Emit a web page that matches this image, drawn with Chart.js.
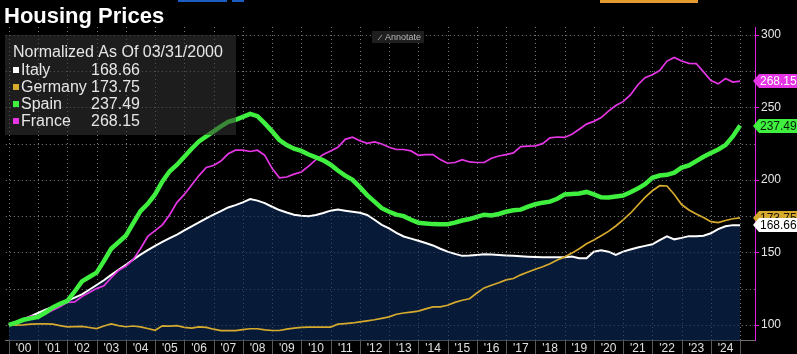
<!DOCTYPE html>
<html>
<head>
<meta charset="utf-8">
<script src="https://cdn.jsdelivr.net/npm/chart.js@4"></script>
<style>
  html, body { margin: 0; padding: 0; background: #000; }
  #wrap { width: 797px; height: 354px; }
</style>
</head>
<body>
<div id="wrap"><canvas id="housingChart" width="797" height="354"></canvas></div>
<script>
// quarterly observations, Q1 2000 .. Q1 2025 (index 100 = 03/31/2000)
const quarters = [];
for (let y = 2000; y <= 2025; y++) {
    for (let q = 0; q < 4; q++) {
        if (quarters.length < 101) quarters.push(y + q / 4);
    }
}

const italy = [100, 102, 104, 106, 108.2, 110.5, 112.3, 114.2, 116.5, 118.8,
    121, 124.2, 127.5, 130.8, 134.5, 138, 141.5, 145, 148.5, 151.6,
    154.5, 157.2, 159.8, 162.3, 165.2, 168, 170.7, 173.5, 176, 178.5,
    181, 182.6, 184.5, 186.8, 185.7, 184, 181.5, 179.2, 177.5, 176,
    175.2, 175, 175.8, 177.2, 178.8, 179.5, 178.8, 178, 177.3, 175.8,
    172.5, 169, 166.5, 163.5, 161, 159.5, 158, 156.5, 154.8, 152.5,
    150.5, 149, 147.6, 147.8, 148.2, 148.7, 148.5, 148.2, 147.9, 147.6,
    147.3, 147, 146.8, 146.7, 146.7, 146.7, 146.7, 147.2, 146, 146,
    150.5, 151.5, 150.5, 148.3, 150.5, 152, 153.4, 154.5, 155.6, 158.5,
    161, 159, 160, 161.2, 161.2, 161.5, 163.2, 166, 168, 168.8,
    168.66];

const germany = [100, 99.8, 100, 100.5, 100.7, 100.7, 100.5, 99.5, 98.6, 98.8,
    99, 98.2, 97.4, 99.2, 100.6, 99.5, 98.7, 99.2, 98.6, 97.5,
    96.3, 99.3, 99.1, 99.4, 98.3, 97.8, 98.6, 98.3, 97, 96,
    96, 96, 96.7, 97.3, 97.3, 96.6, 96.1, 96.1, 97, 97.7,
    98.3, 98.4, 98.4, 98.4, 98.5, 100.5, 100.9, 101.3, 102, 102.7,
    103.5, 104.5, 105.5, 107.3, 108.2, 108.8, 109.5, 111, 112.4, 112.4,
    113.5, 115.5, 117, 118, 122, 125.5, 127.3, 129, 131, 132,
    134.5, 136.5, 138.4, 140.1, 142.2, 144.7, 146.8, 149.5, 152.5, 156,
    158.5, 161.5, 164.5, 168.2, 172.5, 177, 182.5, 188, 192.5, 196,
    195.8, 190, 183, 179.3, 176.5, 174, 171.2, 170.5, 172, 173.2,
    173.75];

const spain = [100, 101.5, 103.5, 104.5, 105.5, 108.5, 112, 114.5, 116.5, 123,
    130, 133, 136, 144, 152.5, 157, 161.5, 170, 178.5, 183.5,
    190, 199, 206, 210.5, 216, 221.5, 226.5, 230, 233.5, 237,
    240, 241.5, 243.5, 245.5, 244, 239, 233.5, 227.5, 224, 221.5,
    220, 217.5, 215.5, 213.5, 210.5, 206.5, 203, 200, 195, 189.5,
    185, 180.5, 178, 176, 175, 172.5, 170.5, 170, 169.5, 169.4,
    169.4, 170.5, 172, 173, 174.5, 176, 175.5, 176.5, 178, 179,
    179.5, 181.5, 183.2, 184.3, 185, 187, 190, 190.3, 190.6, 191.7,
    190, 188, 187.8, 188.5, 189.2, 191.5, 194, 197, 201.5, 203,
    203.5, 205, 208.5, 210, 213, 216, 218.5, 221, 224, 230,
    237.49];

const france = [100, 101.5, 104, 106, 106, 107.5, 110, 112.5, 115.5, 115.8,
    119.5, 122.3, 125, 127, 132.5, 137.5, 140.5, 145, 152.5, 161,
    165, 169, 176, 184.5, 190, 196.5, 203, 208.6, 209.9, 213,
    218, 220.5, 220.5, 219.6, 220.5, 217, 208, 201.5, 202, 204,
    205.5, 209.5, 214, 217.5, 220, 222.5, 228, 229.5, 227, 225.2,
    226.2, 224.8, 222.5, 221, 221, 220, 217, 217.5, 217.5, 214,
    211.5, 212, 214, 212.4, 212, 212, 215, 216.5, 217.5, 218.6,
    223, 223.3, 223.5, 225, 229, 229.6, 229.3, 231.5, 235, 238.5,
    240.4, 243, 247.5, 251.3, 254, 258.6, 265.5, 270.5, 272.6, 275.5,
    282, 284.5, 282, 280.4, 280.3, 274.5, 268.5, 266.3, 270, 267.5,
    268.15];

const yearTicks = [];
for (let y = 2000; y <= 2025; y++) yearTicks.push(y);
const yTicks = [100, 125, 150, 175, 200, 225, 250, 275, 300];

const seriesNames = ['Italy', 'Germany', 'Spain', 'France'];
const lastValues = ['168.66', '173.75', '237.49', '268.15'];
const seriesColors = ['#ffffff', '#d6aa2c', '#3ff03f', '#e535e5'];

const FONT = "'Liberation Sans', Arial, sans-serif";

function points(values) {
    return values.map((v, i) => ({ x: quarters[i], y: v }));
}

function strokeGrid(chart, color) {
    const ctx = chart.ctx;
    const a = chart.chartArea;
    const xs = chart.scales.x;
    const ys = chart.scales.y;
    ctx.strokeStyle = color;
    ctx.lineWidth = 1;
    ctx.setLineDash([1, 3]);
    yTicks.forEach(v => {
        const py = Math.round(ys.getPixelForValue(v)) + 0.5;
        ctx.beginPath();
        ctx.moveTo(a.left, py);
        ctx.lineTo(a.right, py);
        ctx.stroke();
    });
    yearTicks.forEach(v => {
        const px = Math.round(xs.getPixelForValue(v)) + 0.5;
        ctx.beginPath();
        ctx.moveTo(px, a.top);
        ctx.lineTo(px, a.bottom);
        ctx.stroke();
    });
}

// dotted grid, also visible through the Italy fill
const dottedGrid = {
    id: 'dottedGrid',
    beforeDatasetsDraw(chart) {
        chart.ctx.save();
        strokeGrid(chart, '#6e6e6e');
        chart.ctx.restore();
    },
    afterDatasetsDraw(chart) {
        const ctx = chart.ctx;
        const a = chart.chartArea;
        const ys = chart.scales.y;
        ctx.save();
        strokeGrid(chart, 'rgba(120,130,150,0.45)');
        // magenta axis ticks
        ctx.setLineDash([]);
        ctx.strokeStyle = '#e020e0';
        yTicks.filter(v => v % 50 === 0).forEach(v => {
            const py = Math.round(ys.getPixelForValue(v)) + 0.5;
            ctx.beginPath();
            ctx.moveTo(a.right, py);
            ctx.lineTo(a.right + 4, py);
            ctx.stroke();
        });
        ctx.restore();
    }
};

// title, legend box, value tags, x separators
const overlay = {
    id: 'overlay',
    afterDraw(chart) {
        const ctx = chart.ctx;
        const xs = chart.scales.x;
        const ys = chart.scales.y;
        const area = chart.chartArea;
        ctx.save();

        // top strip bits
        ctx.fillStyle = '#1d5cc0';
        ctx.fillRect(178, 0, 49, 2);
        ctx.fillRect(232, 0, 12, 2);
        ctx.fillStyle = '#e39a2e';
        ctx.fillRect(600, 0, 98, 3);

        // title
        ctx.fillStyle = '#ffffff';
        ctx.font = "bold 22px " + FONT;
        ctx.textBaseline = 'alphabetic';
        ctx.textAlign = 'left';
        ctx.fillText('Housing Prices', 4, 23);

        // x label separators
        ctx.strokeStyle = '#5a5a5a';
        ctx.lineWidth = 1;
        yearTicks.forEach(y => {
            const px = Math.round(xs.getPixelForValue(y)) + 0.5;
            ctx.beginPath();
            ctx.moveTo(px, area.bottom);
            ctx.lineTo(px, 354);
            ctx.stroke();
        });

        // annotate chip
        ctx.fillStyle = '#1e1e1e';
        ctx.fillRect(372, 31, 52, 12);
        ctx.strokeStyle = '#9a9a9a';
        ctx.beginPath();
        ctx.moveTo(378, 40);
        ctx.lineTo(382, 35);
        ctx.stroke();
        ctx.fillStyle = '#b8b8b8';
        ctx.font = "9px " + FONT;
        ctx.textBaseline = 'middle';
        ctx.fillText('Annotate', 385, 37.5);

        // legend box
        ctx.fillStyle = 'rgba(53,53,53,0.55)';
        ctx.fillRect(5, 35, 231, 100);
        ctx.fillStyle = '#e6e6e6';
        ctx.font = "16px " + FONT;
        ctx.textBaseline = 'alphabetic';
        ctx.fillText('Normalized As Of 03/31/2000', 13, 57);
        const baselines = [75, 92, 109, 126];
        seriesNames.forEach((name, i) => {
            const b = baselines[i];
            ctx.fillStyle = seriesColors[i];
            ctx.fillRect(13, b - 8, 6, 6);
            ctx.fillStyle = '#e6e6e6';
            ctx.fillText(name, 21, b);
            ctx.fillText(lastValues[i], 91, b);
        });

        // value tags on the right axis (Germany first so Italy sits on top)
        const tagOrder = [1, 0, 2, 3];
        const tagText = ['#000000', '#1a1400', '#062006', '#ffffff'];
        ctx.font = "12px " + FONT;
        ctx.textBaseline = 'middle';
        tagOrder.forEach(i => {
            const y = Math.round(ys.getPixelForValue(parseFloat(lastValues[i])));
            ctx.fillStyle = seriesColors[i];
            ctx.beginPath();
            ctx.moveTo(753, y);
            ctx.lineTo(759, y - 7);
            ctx.lineTo(797, y - 7);
            ctx.lineTo(797, y + 7);
            ctx.lineTo(759, y + 7);
            ctx.closePath();
            ctx.fill();
            ctx.fillStyle = tagText[i];
            ctx.fillText(lastValues[i], 760, y + 0.5);
        });

        ctx.restore();
    }
};

new Chart(document.getElementById('housingChart'), {
    type: 'line',
    data: {
        datasets: [
            {
                label: 'Spain',
                data: points(spain),
                borderColor: seriesColors[2],
                borderWidth: 4.5,
                pointRadius: 0,
                fill: false
            },
            {
                label: 'France',
                data: points(france),
                borderColor: seriesColors[3],
                borderWidth: 1.7,
                pointRadius: 0,
                fill: false
            },
            {
                label: 'Germany',
                data: points(germany),
                borderColor: seriesColors[1],
                borderWidth: 1.7,
                pointRadius: 0,
                fill: false
            },
            {
                label: 'Italy',
                data: points(italy),
                borderColor: seriesColors[0],
                backgroundColor: '#071b38',
                borderWidth: 2,
                pointRadius: 0,
                fill: 'start'
            }
        ]
    },
    options: {
        responsive: false,
        animation: false,
        devicePixelRatio: 1,
        layout: { padding: { top: 27, left: 0, right: 0, bottom: 0 } },
        plugins: {
            legend: { display: false },
            title: { display: false },
            tooltip: { enabled: false }
        },
        scales: {
            x: {
                type: 'linear',
                min: 1999.898,
                max: 2025.509,
                afterBuildTicks: (scale) => {
                    scale.ticks = yearTicks.map(v => ({ value: v }));
                },
                afterFit: (scale) => { scale.height = 12; },
                grid: { display: false, drawTicks: false },
                border: { display: true, color: '#707070' },
                ticks: {
                    autoSkip: false,
                    maxRotation: 0,
                    padding: 1,
                    labelOffset: 14.7,
                    color: '#e0e0e0',
                    font: { family: FONT, size: 12 },
                    callback: (v) => v < 2025 ? "'" + String(v).slice(2) : ''
                }
            },
            y: {
                position: 'right',
                min: 89,
                max: 305.5,
                afterBuildTicks: (scale) => {
                    scale.ticks = yTicks.map(v => ({ value: v }));
                },
                afterFit: (scale) => { scale.width = 42; },
                grid: { display: false, drawTicks: false },
                border: { display: true, color: '#e020e0', width: 1 },
                ticks: {
                    padding: 6,
                    color: '#e6e6e6',
                    font: { family: FONT, size: 12 },
                    callback: (v) => v % 50 === 0 ? String(v) : ''
                }
            }
        }
    },
    plugins: [dottedGrid, overlay]
});
</script>
</body>
</html>
